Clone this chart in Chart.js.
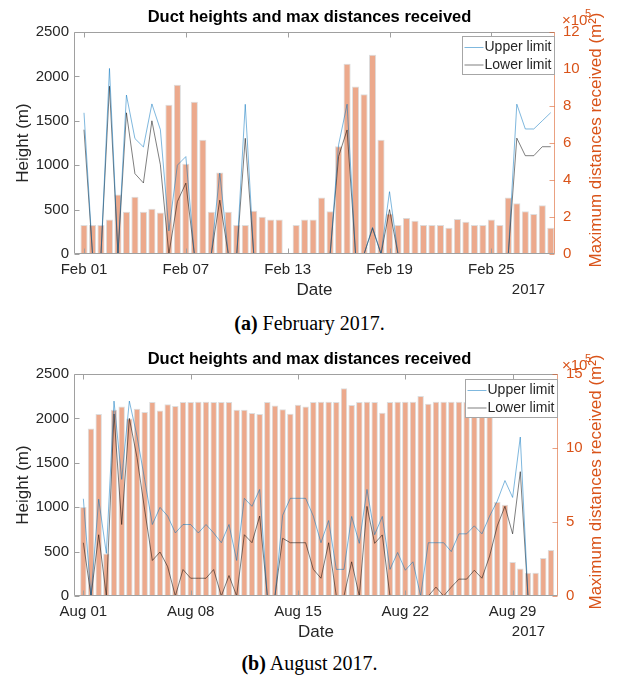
<!DOCTYPE html>
<html>
<head>
<meta charset="utf-8">
<script src="https://cdn.jsdelivr.net/npm/chart.js@4.4.1/dist/chart.umd.min.js"></script>
<style>
  html, body { margin: 0; padding: 0; background: #fff; }
  #page { position: relative; width: 619px; height: 686px; overflow: hidden; background: #fff; }
  .panel { position: absolute; left: 0; width: 619px; height: 300px; }
  .cap { position: absolute; left: 0; width: 619px; text-align: center;
         font-family: "Liberation Serif", "DejaVu Serif", serif; font-size: 20px; color: #000; }
</style>
</head>
<body>
<div id="page">
  <div class="panel" style="top:0"><canvas id="febChart" width="619" height="300"></canvas></div>
  <div class="cap" style="top:312px"><b>(a)</b> February 2017.</div>
  <div class="panel" style="top:342px"><canvas id="augChart" width="619" height="300"></canvas></div>
  <div class="cap" style="top:652px"><b>(b)</b> August 2017.</div>
</div>
<script>
// ---- February 2017, one sample every 12 hours (index 0 = Feb 01 00:00) ----
const febTickPos    = [0, 12, 24, 36, 48];
const febTickLabels = ['Feb 01', 'Feb 07', 'Feb 13', 'Feb 19', 'Feb 25'];
// maximum distance received, in units of 1e5 m^2
const febDist = [1.57, 1.57, 1.57, 1.86, 3.21, 2.29, 3.10, 2.29, 2.45, 2.25,
                 8.07, 9.15, 4.88, 8.23, 6.18, 2.29, 4.41, 2.29, 1.57, 1.57,
                 2.34, 2.02, 1.86, 1.86, null, 1.57, 1.87, 1.87, 3.05, 2.31,
                 5.82, 10.29, 9.06, 8.63, 10.77, 6.18, 2.18, 1.57, 1.95, 1.80,
                 1.57, 1.57, 1.57, 1.42, 1.89, 1.75, 1.57, 1.57, 1.86, 1.57,
                 3.05, 2.74, 2.31, 2.16, 2.63, 1.42];
// duct height limits (m)
const febUpper = [1590, 0, 0, 2090, 0, 1790, 1300, 1205, 1690, 1400,
                  260, 1000, 1097, 0, 0, 0, 912, 0, 0, 1686,
                  0, 0, 0, 0, 0, 0, 0, 0, 0, 0,
                  1230, 1687, 0, 0, 300, 0, 702, 0, 0, 0,
                  0, 0, 0, 0, 0, 0, 0, 0, 0, 0,
                  0, 1687, 1408, 1408, 1500, 1592];
const febLower = [1400, 0, 0, 1890, 0, 1590, 905, 800, 1500, 1005,
                  0, 590, 798, 0, 0, 0, 606, 0, 0, 1303,
                  0, 0, 0, 0, 0, 0, 0, 0, 0, 0,
                  1100, 1397, 0, 0, 290, 0, 500, 0, 0, 0,
                  0, 0, 0, 0, 0, 0, 0, 0, 0, 0,
                  0, 1305, 1107, 1107, 1208, 1208];

// ---- August 2017, one sample every 12 hours (index 0 = Aug 01 00:00) ----
const augTickPos    = [0, 14, 28, 42, 56];
const augTickLabels = ['Aug 01', 'Aug 08', 'Aug 15', 'Aug 22', 'Aug 29'];
const augDist = [6.01, 11.32, 12.29, 2.88, 12.59, 12.81, 12.0, 12.65, 12.43, 13.1,
                 12.54, 12.95, 12.83, 13.1, 13.1, 13.13, 13.13, 13.1, 13.1, 13.1,
                 12.59, 12.59, 12.36, 12.29, 13.1, 12.88, 12.61, 12.31, 12.93, 12.81,
                 13.1, 13.13, 13.13, 13.1, 14.04, 12.9, 13.1, 13.13, 13.1, 12.38,
                 13.1, 13.13, 13.13, 13.13, 13.51, 12.99, 13.13, 13.13, 13.13, 13.13,
                 13.1, 13.1, 13.1, 13.1, 6.35, 6.17, 2.3, 1.85, 1.57, 1.57,
                 2.57, 3.1];
const augUpper = [1095, 0, 1090, 480, 2195, 1313, 2195, 1800, 1310, 805,
                  998, 900, 710, 805, 805, 710, 805, 710, 600, 805,
                  400, 1100, 1010, 1200, 0, 0, 910, 1100, 1100, 1100,
                  900, 600, 850, 300, 300, 896, 593, 1200, 690, 896,
                  300, 490, 290, 385, 0, 600, 600, 600, 500, 700,
                  700, 790, 700, 900, 1070, 1300, 1110, 1790, 0, 0,
                  0, 0];
const augLower = [600, 0, 690, 0, 2050, 805, 2000, 1560, 970, 400,
                  495, 330, 0, 298, 200, 200, 200, 298, 0, 230,
                  0, 690, 600, 900, 0, 0, 650, 600, 600, 600,
                  300, 200, 600, 0, 0, 385, 0, 1009, 593, 688,
                  0, 0, 0, 0, 0, 0, 100, 0, 100, 190,
                  190, 290, 200, 450, 790, 1010, 700, 1400, 0, 0,
                  0, 0];

const titleText  = 'Duct heights and max distances received';
const seriesNames = ['Upper limit', 'Lower limit'];

const SANS = '"Liberation Sans", Arial, Helvetica, sans-serif';
const INK = '#262626';
const ORANGE = '#D95319';
const AXIS_GRAY = '#a0a0a0';
const UPPER_COL = 'rgba(0,114,189,0.5)';
const LOWER_COL = 'rgba(0,0,0,0.5)';

// box, inward ticks, axis titles, exponent and legend
const framePlugin = {
  id: 'frame',
  afterDraw(chart, args, o) {
    const { ctx, chartArea: a, scales } = chart;
    const L = Math.round(a.left) + 0.5, R = Math.round(a.right) - 0.5;
    const T = Math.round(a.top) + 0.5, B = Math.round(a.bottom) - 0.5;
    ctx.save();
    ctx.lineWidth = 1;
    ctx.strokeStyle = AXIS_GRAY;
    ctx.beginPath();
    ctx.moveTo(R, T); ctx.lineTo(L, T); ctx.lineTo(L, B); ctx.lineTo(R, B);
    ctx.stroke();
    ctx.strokeStyle = 'rgba(217,83,25,0.55)';
    ctx.beginPath(); ctx.moveTo(R, T); ctx.lineTo(R, B); ctx.stroke();
    // x ticks, bottom and top, pointing inward
    ctx.strokeStyle = AXIS_GRAY;
    ctx.beginPath();
    o.xTicks.forEach(v => {
      const px = Math.round(scales.x.getPixelForValue(v)) + 0.5;
      ctx.moveTo(px, B); ctx.lineTo(px, B - 5);
      ctx.moveTo(px, T); ctx.lineTo(px, T + 5);
    });
    scales.y.ticks.forEach(t => {
      const py = Math.round(scales.y.getPixelForValue(t.value)) + 0.5;
      ctx.moveTo(L, py); ctx.lineTo(L + 5, py);
    });
    ctx.stroke();
    ctx.strokeStyle = 'rgba(217,83,25,0.55)';
    ctx.beginPath();
    scales.y1.ticks.forEach(t => {
      const py = Math.round(scales.y1.getPixelForValue(t.value)) + 0.5;
      ctx.moveTo(R, py); ctx.lineTo(R - 5, py);
    });
    ctx.stroke();

    // axis titles
    const midY = (a.top + a.bottom) / 2;
    ctx.fillStyle = INK;
    ctx.font = '17px ' + SANS;
    ctx.textAlign = 'center';
    ctx.textBaseline = 'middle';
    ctx.fillText('Date', (a.left + a.right) / 2, 290);
    ctx.font = '15px ' + SANS;
    ctx.fillText('2017', 528.5, 290);
    ctx.save();
    ctx.translate(23, midY);
    ctx.rotate(-Math.PI / 2);
    ctx.font = '17px ' + SANS;
    ctx.fillText('Height (m)', 0, 0);
    ctx.restore();
    ctx.save();
    ctx.fillStyle = ORANGE;
    ctx.translate(596, 140);
    ctx.rotate(-Math.PI / 2);
    ctx.font = '17px ' + SANS;
    ctx.fillText('Maximum distances received (m\u00B2)', 0, 0);
    ctx.restore();
    // exponent of the right axis
    ctx.fillStyle = ORANGE;
    ctx.textAlign = 'left';
    ctx.textBaseline = 'alphabetic';
    ctx.font = '15px ' + SANS;
    ctx.fillText('\u00D710', 562, o.expY);
    ctx.font = '11px ' + SANS;
    ctx.fillText('5', 585, o.expY - 8);

    // legend
    const lw = 92, lh = 38;
    const lx = Math.round(a.right) - lw - 1 + 0.5, ly = Math.round(a.top) + o.legendGap + 0.5;
    ctx.fillStyle = '#fff';
    ctx.fillRect(lx, ly, lw, lh);
    ctx.strokeStyle = '#a6a6a6';
    ctx.strokeRect(lx, ly, lw, lh);
    const rows = [[seriesNames[0], UPPER_COL], [seriesNames[1], LOWER_COL]];
    ctx.font = '14px ' + SANS;
    ctx.textBaseline = 'middle';
    rows.forEach((r, k) => {
      const yy = ly + 11 + k * 17.5;
      ctx.strokeStyle = r[1];
      ctx.beginPath(); ctx.moveTo(lx + 2, yy); ctx.lineTo(lx + 21, yy); ctx.stroke();
      ctx.fillStyle = INK;
      ctx.fillText(r[0], lx + 22, yy);
    });
    ctx.restore();
  }
};

function makeChart(id, spec) {
  const pts = arr => arr.map((v, i) => ({ x: i, y: v }));
  const labelFor = v => {
    const k = spec.tickPos.indexOf(v);
    return k >= 0 ? spec.tickLabels[k] : '';
  };
  return new Chart(document.getElementById(id), {
    type: 'bar',
    data: {
      datasets: [
        { type: 'line', label: seriesNames[0], data: pts(spec.upper), yAxisID: 'y',
          borderColor: UPPER_COL, borderWidth: 1, pointRadius: 0, tension: 0, order: 0 },
        { type: 'line', label: seriesNames[1], data: pts(spec.lower), yAxisID: 'y',
          borderColor: LOWER_COL, borderWidth: 1, pointRadius: 0, tension: 0, order: 1 },
        { type: 'bar', label: 'Maximum distance', data: pts(spec.dist), yAxisID: 'y1',
          backgroundColor: 'rgba(217,83,25,0.5)', borderColor: 'rgba(200,200,200,0.6)',
          borderWidth: 1, barPercentage: 0.84, categoryPercentage: 1, order: 2 }
      ]
    },
    options: {
      responsive: false,
      animation: false,
      devicePixelRatio: 1,
      layout: { padding: 0 },
      plugins: {
        legend: { display: false },
        tooltip: { enabled: false },
        title: { display: true, text: titleText, color: '#000',
                 font: { family: SANS, size: 16.5, weight: 'bold', lineHeight: 1.2 },
                 padding: { top: 8, bottom: 4.2 } },
        frame: { xTicks: spec.tickPos, expY: spec.expY, legendGap: spec.legendGap }
      },
      scales: {
        x: {
          type: 'linear', position: 'bottom', min: spec.xMin, max: spec.xMax, offset: false,
          afterBuildTicks: s => { s.ticks = spec.tickPos.map(v => ({ value: v })); },
          afterFit: s => { s.height = 46; },
          grid: { display: false, drawTicks: false }, border: { display: false },
          ticks: { autoSkip: false, maxRotation: 0, padding: 7, color: INK,
                   font: { family: SANS, size: 15 }, callback: v => labelFor(v) }
        },
        y: {
          position: 'left', min: 0, max: 2500,
          afterFit: s => { s.width = 74; },
          grid: { display: false, drawTicks: false }, border: { display: false },
          ticks: { stepSize: 500, padding: 5, color: INK, font: { family: SANS, size: 15 },
                   callback: v => String(v) }
        },
        y1: {
          position: 'right', min: 0, max: spec.rightMax,
          afterFit: s => { s.width = spec.rightWidth; },
          grid: { display: false, drawTicks: false }, border: { display: false },
          ticks: { stepSize: spec.rightStep, padding: 8, color: ORANGE, font: { family: SANS, size: 15 },
                   callback: v => String(v) }
        }
      }
    },
    plugins: [framePlugin]
  });
}

makeChart('febChart', {
  tickPos: febTickPos, tickLabels: febTickLabels,
  dist: febDist, upper: febUpper, lower: febLower,
  xMin: -1.18, xMax: 55.5, rightMax: 12, rightStep: 2, rightWidth: 64,
  expY: 25, legendGap: 4
});
makeChart('augChart', {
  tickPos: augTickPos, tickLabels: augTickLabels,
  dist: augDist, upper: augUpper, lower: augLower,
  xMin: -1.22, xMax: 61.92, rightMax: 15, rightStep: 5, rightWidth: 61,
  expY: 28, legendGap: 5
});
</script>
</body>
</html>
